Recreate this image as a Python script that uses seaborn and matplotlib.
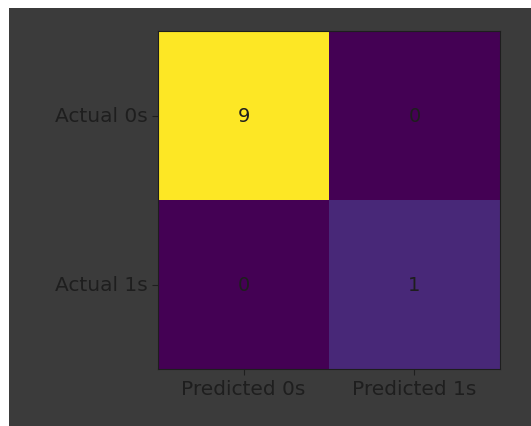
import seaborn as sns
import matplotlib.pyplot as plt
import numpy as np
from matplotlib.patches import Rectangle

# confusion matrix values
row_labels = ['Actual 0s', 'Actual 1s']
col_labels = ['Predicted 0s', 'Predicted 1s']
counts = [[9, 0],
          [0, 1]]

fig = plt.figure(figsize=(5.31, 4.27), dpi=100, facecolor='white')
# dark panel behind the chart
fig.patches.append(Rectangle((9 / 531, 0), 1, (427 - 9) / 427, transform=fig.transFigure,
                             facecolor='#3b3b3b', edgecolor='none', zorder=-10))

ax = fig.add_axes([158 / 531, 57 / 427, 342 / 531, 338 / 427])
ax.set_zorder(5)
sns.heatmap(np.array(counts), cmap='viridis', annot=True, fmt='d', cbar=False,
            annot_kws={'color': '#1e1e1e', 'fontsize': 14},
            xticklabels=col_labels, yticklabels=row_labels, ax=ax)

for s in ax.spines.values():
    s.set_visible(True)
    s.set_color('#1e1e1e')
ax.tick_params(axis='both', length=4, color='#1e1e1e', labelcolor='#1e1e1e', labelsize=14.5)
plt.setp(ax.get_yticklabels(), rotation=0)
plt.setp(ax.get_xticklabels(), rotation=0)

plt.savefig('out.png', dpi=100, facecolor=fig.get_facecolor())
